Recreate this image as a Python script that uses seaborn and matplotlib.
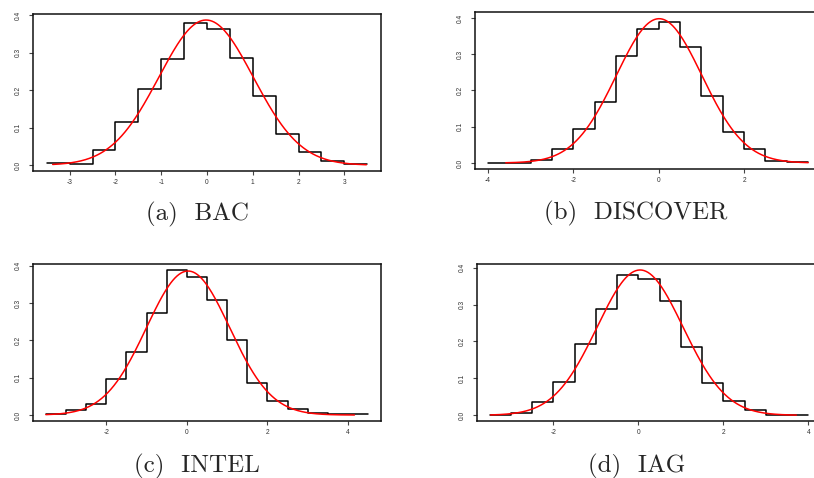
import numpy as np
import pandas as pd
import matplotlib
matplotlib.use('Agg')
import matplotlib.pyplot as plt
import seaborn as sns

# bin edges and densities
bac_edges = [-3.5, -3.0, -2.5, -2.0, -1.5, -1.0, -0.5, 0.0, 0.5, 1.0, 1.5, 2.0, 2.5, 3.0, 3.5]
bac_dens = [0.005, 0.004, 0.041, 0.114, 0.203, 0.284, 0.380, 0.363,
            0.287, 0.185, 0.084, 0.034, 0.012, 0.002]

dis_edges = [-4.0, -3.5, -3.0, -2.5, -2.0, -1.5, -1.0, -0.5, 0.0, 0.5, 1.0, 1.5, 2.0, 2.5, 3.0, 3.5]
dis_dens = [0.001, 0.001, 0.008, 0.038, 0.094, 0.168, 0.294, 0.370,
            0.389, 0.320, 0.186, 0.086, 0.038, 0.005, 0.002]

int_edges = [-3.5, -3.0, -2.5, -2.0, -1.5, -1.0, -0.5, 0.0, 0.5, 1.0, 1.5, 2.0, 2.5, 3.0, 3.5, 4.0, 4.5]
int_dens = [0.004, 0.0125, 0.029, 0.096, 0.169, 0.273, 0.389, 0.369,
            0.309, 0.200, 0.086, 0.0375, 0.015, 0.005, 0.002, 0.002]

iag_edges = [-3.5, -3.0, -2.5, -2.0, -1.5, -1.0, -0.5, 0.0, 0.5, 1.0, 1.5, 2.0, 2.5, 3.0, 3.5, 4.0]
iag_dens = [0.002, 0.007, 0.036, 0.091, 0.194, 0.289, 0.381, 0.369,
            0.311, 0.186, 0.087, 0.038, 0.013, 0.002, 0.002]

# fitted normal curves: mean, sd, plotted range
bac_fit = (-0.02, 1.031, -3.37, 3.48)
dis_fit = (0.01, 1.002, -3.58, 3.50)
int_fit = (0.03, 1.033, -3.50, 4.16)
iag_fit = (0.04, 1.013, -3.48, 3.72)

captions = ['(a)  BAC', '(b)  DISCOVER', '(c)  INTEL', '(d)  IAG']

sns.set_style('ticks')
plt.rcParams['font.family'] = ['Liberation Sans', 'DejaVu Sans']
plt.rcParams['axes.unicode_minus'] = False

fig = plt.figure(figsize=(8.14, 4.78), dpi=100)
W, H = 814, 478

panels = [
    dict(edges=bac_edges, dens=bac_dens, fit=bac_fit, box=(33, 14, 381, 171),
         xlim=(-3.8, 3.8), ylim=(-0.0155, 0.403), xticks=[-3, -2, -1, 0, 1, 2, 3],
         cap=(197, 214)),
    dict(edges=dis_edges, dens=dis_dens, fit=dis_fit, box=(475, 12, 821, 169),
         xlim=(-4.3, 3.8), ylim=(-0.0166, 0.4166), xticks=[-4, -2, 0, 2],
         cap=(636, 213)),
    dict(edges=int_edges, dens=int_dens, fit=int_fit, box=(33, 264, 381, 421),
         xlim=(-3.82, 4.82), ylim=(-0.016, 0.405), xticks=[-2, 0, 2, 4],
         cap=(197, 466)),
    dict(edges=iag_edges, dens=iag_dens, fit=iag_fit, box=(477, 264, 821, 421),
         xlim=(-3.8, 4.3), ylim=(-0.0155, 0.41), xticks=[-2, 0, 2, 4],
         cap=(637, 466)),
]

for p, cap in zip(panels, captions):
    x0, y0, x1, y1 = p['box']
    ax = fig.add_axes([x0 / W, 1 - y1 / H, (x1 - x0) / W, (y1 - y0) / H])
    edges = np.array(p['edges'])
    centers = (edges[:-1] + edges[1:]) / 2
    df = pd.DataFrame({'x': centers, 'w': p['dens']})
    sns.histplot(data=df, x='x', weights='w', bins=list(p['edges']), element='step',
                 fill=False, color='black', linewidth=1.1, ax=ax)
    mu, sd, lo, hi = p['fit']
    xs = np.linspace(lo, hi, 300)
    ys = np.exp(-0.5 * ((xs - mu) / sd) ** 2) / (sd * np.sqrt(2 * np.pi))
    sns.lineplot(x=xs, y=ys, color='red', linewidth=1.1, ax=ax)

    ax.set_xlim(*p['xlim'])
    ax.set_ylim(*p['ylim'])
    ax.set_xticks(p['xticks'])
    ax.set_xticklabels([str(t) for t in p['xticks']])
    ax.set_yticks([0, 0.1, 0.2, 0.3, 0.4])
    ax.set_yticklabels(['0.0', '0.1', '0.2', '0.3', '0.4'], rotation=90, va='center')
    ax.set_xlabel('')
    ax.set_ylabel('')
    ax.tick_params(axis='both', length=3, width=0.8, color='#444', labelsize=4.8,
                   labelcolor='#333')
    ax.tick_params(axis='x', pad=2.5)
    ax.tick_params(axis='y', pad=5)
    for s in ax.spines.values():
        s.set_visible(True)
        s.set_color('#111')
        s.set_linewidth(1.1)
    fig.text(p['cap'][0] / W, 1 - p['cap'][1] / H, cap, family='cmr10',
             fontsize=18, ha='center', va='center')

fig.savefig('out.png', dpi=100)
